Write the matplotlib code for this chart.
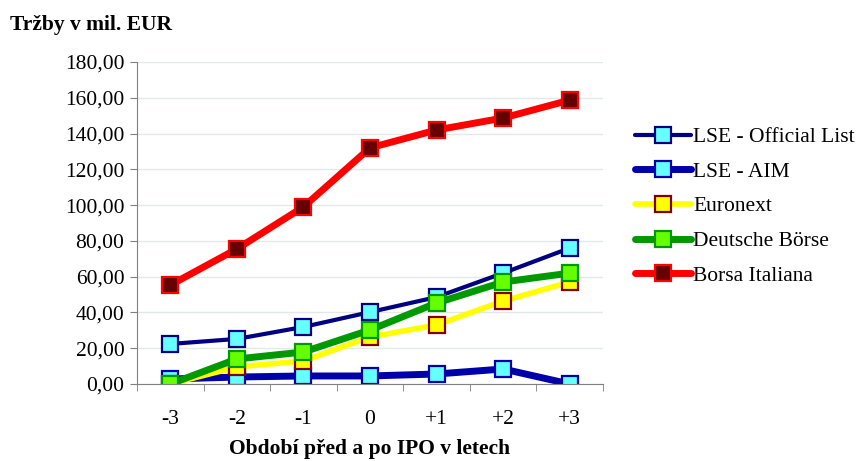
import matplotlib.pyplot as plt
import numpy as np

plt.rcParams['font.family'] = ['Liberation Serif', 'DejaVu Serif']

# Data
periods = ['-3', '-2', '-1', '0', '+1', '+2', '+3']
lse_official = [22.4, 25.2, 31.9, 40.2, 48.6, 62.0, 76.0]
lse_aim = [2.8, 3.9, 4.5, 4.5, 5.6, 8.4, 0.0]
euronext = [0.0, 9.5, 12.9, 26.3, 33.0, 46.4, 57.0]
deutsche = [0.0, 14.0, 17.9, 30.2, 45.3, 57.0, 62.0]
borsa = [55.3, 75.5, 99.0, 132.0, 142.0, 148.7, 158.7]

series = [
    ('LSE - Official List', lse_official, '#000080', 3.0, '#66FFFF', '#000080'),
    ('LSE - AIM', lse_aim, '#0000AA', 5.0, '#66FFFF', '#0000AA'),
    ('Euronext', euronext, '#FFFF00', 4.0, '#FFFF00', '#800000'),
    ('Deutsche Börse', deutsche, '#009900', 5.0, '#66FF00', '#009900'),
    ('Borsa Italiana', borsa, '#FF0000', 5.0, '#660000', '#FF0000'),
]

fig = plt.figure(figsize=(8.6, 4.61), dpi=100)
ax = fig.add_axes([0.1593, 0.167, 0.5419, 0.6985])

x = np.arange(len(periods))
for name, vals, col, lw, mfc, mec in series:
    ax.plot(x, vals, color=col, lw=lw, marker='s', markersize=11,
            markerfacecolor=mfc, markeredgecolor=mec, markeredgewidth=1.6,
            label=name, solid_capstyle='round')

ax.set_xlim(-0.5, len(periods) - 0.5)
ax.set_ylim(0, 180)
ax.set_yticks(np.arange(0, 181, 20))
ax.set_yticklabels(['%d,00' % v for v in range(0, 181, 20)])
ax.set_xticks(x)
ax.set_xticklabels(periods)
ax.set_xticks(np.arange(-0.5, len(periods), 1), minor=True)
ax.tick_params(axis='x', which='major', length=0, pad=19, labelsize=15.5)
ax.tick_params(axis='x', which='minor', length=5, color='#808080')
ax.tick_params(axis='y', length=5, color='#808080', labelsize=15.5, pad=4)

ax.grid(axis='y', color='#E3E8E8', lw=1)
ax.set_axisbelow(True)
for s in ['top', 'right']:
    ax.spines[s].set_visible(False)
for s in ['left', 'bottom']:
    ax.spines[s].set_color('#808080')

ax.set_xlabel('Období před a po IPO v letech', fontsize=15.5, fontweight='bold', labelpad=7)
fig.text(0.012, 0.945, 'Tržby v mil. EUR', fontsize=15.5, fontweight='bold', va='center')

leg = ax.legend(loc='upper left', bbox_to_anchor=(1.05, 0.825), frameon=False,
                fontsize=15.5, handlelength=2.6, handletextpad=0.1,
                labelspacing=0.68, borderaxespad=0)

fig.savefig('out.png', dpi=100)
